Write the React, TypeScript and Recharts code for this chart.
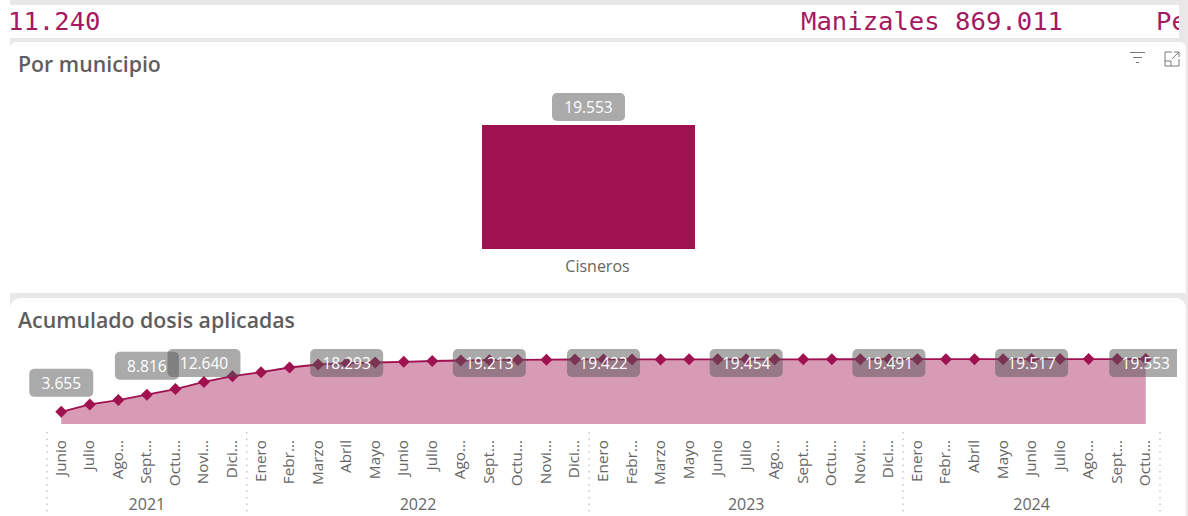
import React from "react";
import { BarChart, Bar, XAxis, YAxis, LabelList, ComposedChart, Area } from "recharts";

const months = ["Junio","Julio","Ago...","Sept...","Octu...","Novi...","Dici...","Enero","Febr...","Marzo","Abril","Mayo","Junio","Julio","Ago...","Sept...","Octu...","Novi...","Dici...","Enero","Febr...","Marzo","Mayo","Junio","Julio","Ago...","Sept...","Octu...","Novi...","Dici...","Enero","Febr...","Abril","Mayo","Junio","Julio","Ago...","Sept...","Octu..."];
const years = [2021,2021,2021,2021,2021,2021,2021,2022,2022,2022,2022,2022,2022,2022,2022,2022,2022,2022,2022,2023,2023,2023,2023,2023,2023,2023,2023,2023,2023,2023,2024,2024,2024,2024,2024,2024,2024,2024,2024];
const cumulative = [3655,5900,7200,8816,10500,12640,14400,15600,17000,17900,18293,18500,18700,18950,19100,19213,19280,19350,19400,19422,19430,19436,19442,19448,19454,19462,19470,19478,19485,19491,19496,19500,19505,19510,19517,19525,19535,19545,19553];
const labelled = [0,3,5,10,15,19,24,29,34,38];
const municipios = ["Cisneros"];
const municipioValues = [19553];

const lineData = months.map((m, i) => ({ key: i, month: m, year: years[i], value: cumulative[i] }));
const barData = municipios.map((m, i) => ({ name: m, value: municipioValues[i] }));

const WINE = "#a01150";
const FONT = "'Open Sans', sans-serif";
const STEP = 1113 / 39;
const LABEL_EDGE = 1177;

const fmt = (v: number) => String(v).replace(/\B(?=(\d{3})+$)/g, ".");

function Pill({ cx, cy, w, text }: { cx: number; cy: number; w: number; text: string }) {
  const left = cx - w / 2;
  const right = cx + w / 2;
  const clipped = right > LABEL_EDGE;
  return (
    <g>
      {clipped ? (
        <path d={`M${left + 5} ${cy - 14}H${LABEL_EDGE}V${cy + 14}H${left + 5}Q${left} ${cy + 14} ${left} ${cy + 9}V${cy - 9}Q${left} ${cy - 14} ${left + 5} ${cy - 14}Z`} fill="#565656" fillOpacity={0.5} />
      ) : (
        <rect x={left} y={cy - 14} width={w} height={28} rx={5} fill="#565656" fillOpacity={0.5} />
      )}
      <text x={cx} y={cy + 6} textAnchor="middle" fontFamily={FONT} fontSize={15.5} fill="#ffffff">{text}</text>
    </g>
  );
}

function LineLabel(props: any) {
  const { x, y, value, index } = props;
  if (!labelled.includes(index)) return null;
  const cy = Math.max(y - 29, 363);
  const text = fmt(value);
  return <Pill cx={x} cy={cy} w={text.length > 5 ? 73 : 64} text={text} />;
}

function BarLabel(props: any) {
  const { x, y, width, value } = props;
  return <Pill cx={x + width / 2} cy={y - 18} w={73} text={fmt(value)} />;
}

function Diamond(props: any) {
  const { cx, cy } = props;
  return <path d={`M${cx} ${cy - 6}L${cx + 6} ${cy}L${cx} ${cy + 6}L${cx - 6} ${cy}Z`} fill={WINE} />;
}

function MonthTick(props: any) {
  const { x, y, payload } = props;
  const i = payload.index;
  const yr = years[i];
  const first = years.indexOf(yr);
  const last = years.lastIndexOf(yr);
  const mid = (first + last) / 2;
  const top = 432;
  const bottom = 514;
  const sep = "#c8c8c8";
  return (
    <g>
      <text transform={`translate(${x + 4.5},${y + 8}) rotate(-90)`} textAnchor="end" fontFamily={FONT} fontSize={15.3} fill="#666666">{months[i]}</text>
      {i === first && <line x1={x - STEP / 2} x2={x - STEP / 2} y1={top} y2={bottom} stroke={sep} strokeDasharray="1.5 5" strokeWidth={1.5} />}
      {i === years.length - 1 && <line x1={x + STEP / 2} x2={x + STEP / 2} y1={top} y2={bottom} stroke={sep} strokeDasharray="1.5 5" strokeWidth={1.5} />}
      {i === Math.floor(mid) && <text x={x + (mid - i) * STEP} y={510} textAnchor="middle" fontFamily={FONT} fontSize={16} fill="#666666">{yr}</text>}
    </g>
  );
}

const title: React.CSSProperties = { position: "absolute", fontFamily: FONT, fontWeight: 600, fontSize: 21.3, color: "#605e5c", whiteSpace: "nowrap", lineHeight: "28px" };
const mono: React.CSSProperties = { position: "absolute", fontFamily: "'DejaVu Sans Mono', monospace", fontSize: 25.6, color: "#a5195f", whiteSpace: "pre", lineHeight: "32px", top: 5 };

export default function App() {
  return (
    <div style={{ position: "fixed", left: 0, top: 0, width: 1188, height: 516, background: "#ffffff", overflow: "hidden" }}>
      <div style={{ position: "absolute", left: 10, top: 0, width: 1178, height: 516, background: "#e9e7e8" }} />
      <div style={{ position: "absolute", left: 0, top: 5, width: 1179, height: 33, background: "#ffffff", overflow: "hidden" }}>
        <div style={{ ...mono, left: 8, top: 0 }}>11.240</div>
        <div style={{ ...mono, left: 801, top: 0 }}>Manizales 869.011</div>
        <div style={{ ...mono, left: 1156, top: 0 }}>Pe</div>
      </div>
      <div style={{ position: "absolute", left: 10, top: 42, width: 1176, height: 251, background: "#ffffff", borderRadius: "6px 6px 0 0" }} />
      <div style={{ position: "absolute", left: 0, top: 42, width: 10, height: 474, background: "#ffffff" }} />
      <div style={{ position: "absolute", left: 10, top: 298, width: 1176, height: 218, background: "#ffffff", borderRadius: "10px 10px 0 0" }} />
      <div style={{ ...title, left: 18, top: 50 }}>Por municipio</div>
      <div style={{ ...title, left: 18, top: 306 }}>Acumulado dosis aplicadas</div>

      <svg style={{ position: "absolute", left: 1128, top: 50 }} width={56} height={20} fill="none" stroke="#7a7a7a" strokeWidth={1}>
        <path d="M2 2.5H17M5 7.5H14M8 12.5H11" />
        <path d="M37 5V16H51V9M37 11H43V16M44 9L51 2M46 2H51V7M44 2H37V5" />
      </svg>

      <div style={{ position: "absolute", left: 0, top: 0 }}>
        <BarChart width={1188} height={285} data={barData} margin={{ top: 125, right: 493, bottom: 0, left: 482 }} barCategoryGap={0}>
          <XAxis dataKey="name" axisLine={false} tickLine={false} interval={0} tick={{ fontFamily: FONT, fontSize: 16, fill: "#666666", dx: 9 }} tickMargin={6} height={36} />
          <YAxis hide domain={[0, 19553]} />
          <Bar dataKey="value" fill={WINE} isAnimationActive={false}>
            <LabelList dataKey="value" content={BarLabel} />
          </Bar>
        </BarChart>
      </div>

      <div style={{ position: "absolute", left: 0, top: 0 }}>
        <ComposedChart width={1188} height={516} data={lineData} margin={{ top: 359, right: 28, bottom: 0, left: 47 }}>
          <XAxis dataKey="key" scale="band" axisLine={false} tickLine={false} interval={0} tick={MonthTick} height={92} />
          <YAxis hide domain={[0, 19553]} />
          <Area type="linear" dataKey="value" stroke={WINE} strokeWidth={1.8} fill="#a01150" fillOpacity={0.42} dot={<Diamond />} activeDot={false} isAnimationActive={false}>
            <LabelList dataKey="value" content={LineLabel} />
          </Area>
        </ComposedChart>
      </div>
    </div>
  );
}
